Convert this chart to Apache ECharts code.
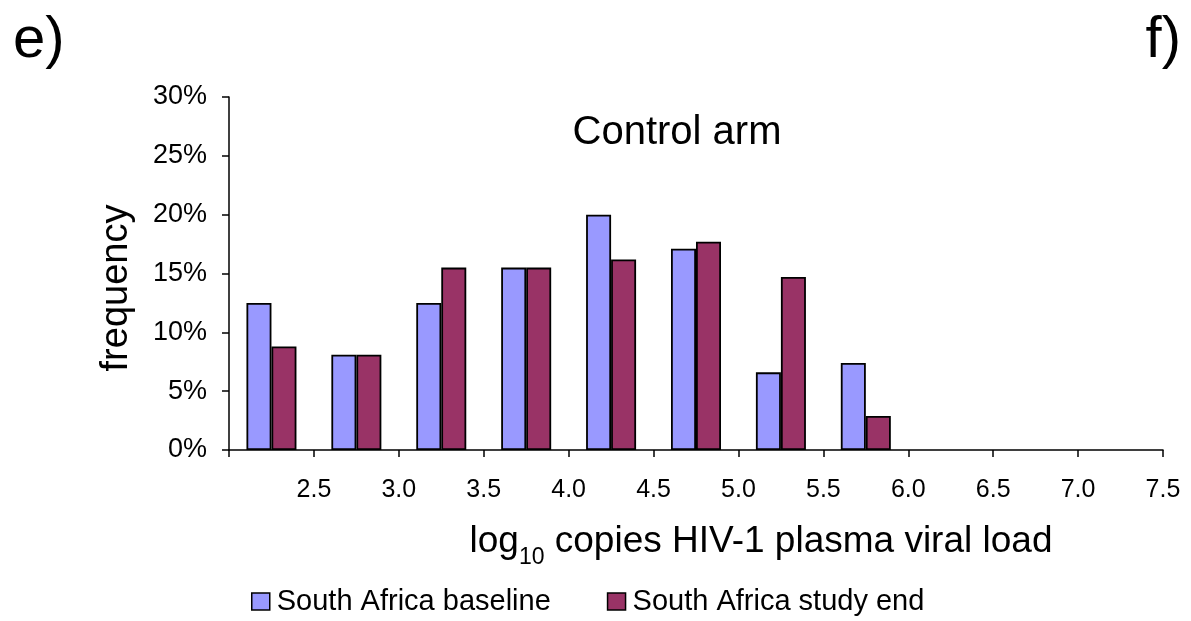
<!DOCTYPE html>
<html>
<head>
<meta charset="utf-8">
<script src="https://cdn.jsdelivr.net/npm/echarts@6/dist/echarts.min.js"></script>
<style>html,body{margin:0;padding:0;background:#fff;}#c{width:1191px;height:621px;}</style>
</head>
<body>
<div id="c"></div>
<script>
// Bins (upper bound of each log10 bin)
var categories = ['2.5','3.0','3.5','4.0','4.5','5.0','5.5','6.0','6.5','7.0','7.5'];
var tickLabels = [2.0, 2.5, 3.0, 3.5, 4.0, 4.5, 5.0, 5.5, 6.0, 6.5, 7.0, 7.5];
var baseline = [12.5, 8.1, 12.5, 15.5, 20.0, 17.1, 6.6, 7.4, 0, 0, 0];
var studyEnd = [8.8, 8.1, 15.5, 15.5, 16.2, 17.7, 14.7, 2.9, 0, 0, 0];
var seriesNames = ['South Africa baseline', 'South Africa study end'];

function hideZero(arr) { return arr.map(function (v) { return v === 0 ? '-' : v; }); }

var font = '"Liberation Sans", Arial, sans-serif';
var chart = echarts.init(document.getElementById('c'), null, {renderer: 'canvas'});
chart.setOption({
  animation: false,
  backgroundColor: '#fff',
  textStyle: {fontFamily: font, color: '#000'},
  grid: {left: 229, right: 28, top: 97, bottom: 171, containLabel: false},
  xAxis: [
    {
      type: 'category', data: categories, boundaryGap: true,
      axisLine: {lineStyle: {color: '#000', width: 1.5}},
      axisTick: {show: true, length: 7, lineStyle: {color: '#000', width: 1.5}, alignWithLabel: false},
      axisLabel: {show: false},
      splitLine: {show: false}
    },
    {
      type: 'value', min: tickLabels[0], max: tickLabels[tickLabels.length - 1], interval: 0.5,
      position: 'bottom',
      axisLine: {show: false}, axisTick: {show: false}, splitLine: {show: false},
      axisLabel: {
        show: true, showMinLabel: false, margin: 28,
        fontSize: 25, color: '#000', fontFamily: font,
        formatter: function (v) { return v.toFixed(1); }
      }
    }
  ],
  yAxis: {
    type: 'value', min: 0, max: 30, interval: 5,
    axisLine: {show: true, lineStyle: {color: '#000', width: 1.5}},
    axisTick: {show: true, inside: false, length: 7, lineStyle: {color: '#000', width: 1.5}},
    axisLabel: {fontSize: 27, color: '#000', fontFamily: font, margin: 22, formatter: '{value}%'},
    splitLine: {show: false}
  },
  legend: {
    left: 246, top: 582, itemWidth: 18, itemHeight: 17, itemGap: 56,
    icon: 'rect',
    itemStyle: {borderColor: '#000', borderWidth: 1.5},
    textStyle: {fontSize: 29, color: '#000', fontFamily: font, padding: [0, 0, 0, 2]},
    data: seriesNames
  },
  series: [
    {
      name: seriesNames[0], type: 'bar', data: hideZero(baseline), barWidth: 25, barGap: '0%',
      itemStyle: {color: '#9999FF', borderColor: '#000', borderWidth: 1.8}
    },
    {
      name: seriesNames[1], type: 'bar', data: hideZero(studyEnd), barWidth: 25, barGap: '0%',
      itemStyle: {color: '#993366', borderColor: '#000', borderWidth: 1.8}
    }
  ],
  graphic: [
    {type: 'text', left: 13, top: 12, style: {text: 'e)', font: '58px ' + font, fill: '#000'}},
    {type: 'text', right: 10, top: 12, style: {text: 'f)', font: '58px ' + font, fill: '#000'}},
    {type: 'text', x: 677, y: 133, style: {text: 'Control arm', font: '40px ' + font, fill: '#000', textAlign: 'center', textVerticalAlign: 'middle'}},
    {type: 'text', x: 117, y: 288, rotation: Math.PI / 2, style: {text: 'frequency', font: '38px ' + font, fill: '#000', textAlign: 'center', textVerticalAlign: 'middle'}},
    {type: 'text', x: 761, y: 538, style: {
      text: '{a|log}{b|10}{a| copies HIV-1 plasma viral load}',
      textAlign: 'center', textVerticalAlign: 'middle',
      rich: {
        a: {fontSize: 37, fontFamily: font, fill: '#000', color: '#000', verticalAlign: 'bottom', lineHeight: 44},
        b: {fontSize: 23, fontFamily: font, fill: '#000', color: '#000', verticalAlign: 'bottom', lineHeight: 44, padding: [0, 0, -9, 0]}
      }
    }}
  ]
});
</script>
</body>
</html>
